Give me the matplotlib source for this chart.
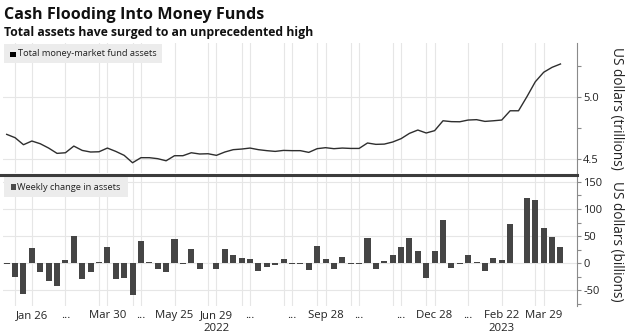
import numpy as np
import pandas as pd
import matplotlib
matplotlib.use("Agg")
import matplotlib.pyplot as plt
from matplotlib.patches import Rectangle
from matplotlib.lines import Line2D
from matplotlib.transforms import blended_transform_factory

plt.rcParams["font.family"] = ["Open Sans", "DejaVu Sans"]

# Weekly observations (Wednesdays)
weeks = pd.date_range("2022-01-05", periods=67, freq="W-WED")

# Total money-market fund assets, US$ trillions
total_assets = [
    4.700, 4.673, 4.616, 4.646, 4.624, 4.589, 4.546, 4.551, 4.605, 4.570,
    4.557, 4.559, 4.589, 4.562, 4.530, 4.470, 4.511, 4.511, 4.503, 4.486,
    4.527, 4.527, 4.551, 4.541, 4.543, 4.530, 4.557, 4.576, 4.581, 4.589,
    4.576, 4.568, 4.562, 4.570, 4.568, 4.568, 4.554, 4.584, 4.592, 4.584,
    4.589, 4.586, 4.586, 4.630, 4.619, 4.621, 4.638, 4.665, 4.708, 4.735,
    4.711, 4.730, 4.810, 4.803, 4.802, 4.816, 4.819, 4.805, 4.810, 4.816,
    4.891, 4.891, 5.005, 5.126, 5.203, 5.243, 5.270,
]

# Weekly change in assets, US$ billions
weekly_change = [
    -1, -26, -56, 28, -16, -33, -43, 5, 51, -29,
    -16, 3, 30, -29, -28, -59, 41, 2, -10, -16,
    44, -2, 26, -11, 1, -11, 26, 16, 9, 7,
    -14, -7, -4, 8, -1, -1, -13, 32, 7, -11,
    11, -2, -1, 47, -10, 4, 16, 30, 47, 22,
    -27, 22, 79, -8, -1, 16, 3, -15, 10, 6,
    73, 1, 120, 116, 65, 48, 30,
]

# Date axis labels
tick_dates = ["2022-01-26", "2022-02-23", "2022-03-30", "2022-04-27", "2022-05-25",
              "2022-06-29", "2022-07-27", "2022-08-31", "2022-09-28", "2022-10-26",
              "2022-11-30", "2022-12-28", "2023-01-25", "2023-02-22", "2023-03-29"]
tick_labels = ["Jan 26", "...", "Mar 30", "...", "May 25", "Jun 29", "...", "...",
               "Sep 28", "...", "...", "Dec 28", "...", "Feb 22", "Mar 29"]
year_dates = ["2022-06-29", "2023-02-22"]
year_labels = ["2022", "2023"]
extra_grid_dates = ["2022-01-12", "2022-03-23", "2022-04-20", "2022-06-22", "2022-07-20",
                    "2022-08-24", "2022-09-21", "2022-10-19", "2022-11-23", "2022-12-21",
                    "2023-03-22"]

W, H = 630, 335
def fx(px):
    return px / W
def fy(py):
    return 1 - py / H

x = np.arange(len(weeks))
idx = {d: i for i, d in enumerate(weeks)}
tick_pos = [idx[pd.Timestamp(d)] for d in tick_dates]
year_pos = [idx[pd.Timestamp(d)] for d in year_dates]
extra_pos = [idx[pd.Timestamp(d)] for d in extra_grid_dates]

fig = plt.figure(figsize=(W / 100, H / 100), dpi=100)
fig.patch.set_facecolor("white")

left_px, right_px = 3, 577
ax1 = fig.add_axes([fx(left_px), fy(173), fx(right_px - left_px), 130 / H])
ax2 = fig.add_axes([fx(left_px), fy(306), fx(right_px - left_px), 129 / H])

grid_c = "#e6e6e6"
axis_c = "#8a8a8a"
text_c = "#222222"

for ax in (ax1, ax2):
    ax.set_xlim(-0.44, 67.97)
    for s in ("left", "top", "bottom"):
        ax.spines[s].set_visible(False)
    ax.spines["right"].set_color(axis_c)
    ax.spines["right"].set_linewidth(0.8)
    ax.yaxis.tick_right()
    ax.tick_params(axis="y", which="both", colors=axis_c, width=0.8, labelcolor=text_c,
                   labelsize=8, pad=1.5, length=3)
    for p in list(tick_pos) + list(extra_pos):
        ax.axvline(p, color=grid_c, lw=0.8, zorder=0)
    ax.set_facecolor("none")

# Top panel: total assets
ax1.plot(x, total_assets, color="#2e2e2e", lw=1.0, zorder=3)
ax1.set_ylim(4.387, 5.44)
ax1.set_yticks([4.5, 5.0])
ax1.set_yticklabels(["4.5", "5.0"])
ax1.set_yticks([4.75, 5.25], minor=True)
for v in (4.5, 5.0):
    ax1.axhline(v, color=grid_c, lw=0.8, zorder=0)
ax1.set_xticks([])

# Bottom panel: weekly change
ax2.bar(x, weekly_change, width=0.72, color="#454545", zorder=3)
ax2.set_ylim(-79, 159)
ax2.set_yticks([-50, 0, 50, 100, 150])
ax2.set_yticklabels(["-50", "0", "50", "100", "150"])
ax2.set_yticks([-75, -25, 25, 75, 125], minor=True)
for v in (-50, 0, 50, 100, 150):
    ax2.axhline(v, color=grid_c, lw=0.8, zorder=0)
ax2.set_xticks(tick_pos)
ax2.set_xticklabels(tick_labels, fontsize=8.2, color=text_c)
ax2.tick_params(axis="x", length=0, pad=3.2)

# Year markers under the date labels
year_tf = blended_transform_factory(ax2.transData, fig.transFigure)
for p, lab in zip(year_pos, year_labels):
    ax2.text(p, fy(328.5), lab, transform=year_tf, fontsize=8.2, color=text_c,
             ha="center", va="center")

# Panel separator
fig.add_artist(Line2D([0, fx(right_px)], [fy(175), fy(175)], color="#3c3c3c", lw=2.2))

# Legend chips
def chip(x0, y0, x1, y1, mx0, my0, msize, mcolor, label, tx):
    fig.add_artist(Rectangle((fx(x0), fy(y1)), fx(x1 - x0), (y1 - y0) / H,
                             transform=fig.transFigure, color="#ececec", lw=0, zorder=1))
    fig.add_artist(Rectangle((fx(mx0), fy(my0 + msize)), fx(msize), msize / H,
                             transform=fig.transFigure, color=mcolor, lw=0, zorder=2))
    fig.text(fx(tx), fy((y0 + y1) / 2), label, fontsize=6.7, color=text_c,
             va="center", ha="left", zorder=3)

chip(4, 44, 162, 63, 10, 51.5, 5.8, "#000000", "Total money-market fund assets", 18)
chip(4, 177.3, 127.5, 197.3, 10.5, 184.2, 5.5, "#4a4a4a", "Weekly change in assets", 17)

# Axis titles
fig.text(fx(617), fy(108), "US dollars (trillions)", rotation=-90, fontsize=9.8,
         color=text_c, ha="center", va="center")
fig.text(fx(617), fy(241), "US dollars (billions)", rotation=-90, fontsize=9.8,
         color=text_c, ha="center", va="center")

# Headline
fig.text(fx(3.5), fy(19.3), "Cash Flooding Into Money Funds", fontsize=11.6,
         fontweight="bold", color="#111111", va="baseline", ha="left")
fig.text(fx(3.5), fy(35.7), "Total assets have surged to an unprecedented high", fontsize=8.8,
         fontweight="bold", color="#111111", va="baseline", ha="left")

fig.savefig("out.png", dpi=100, facecolor="white")
